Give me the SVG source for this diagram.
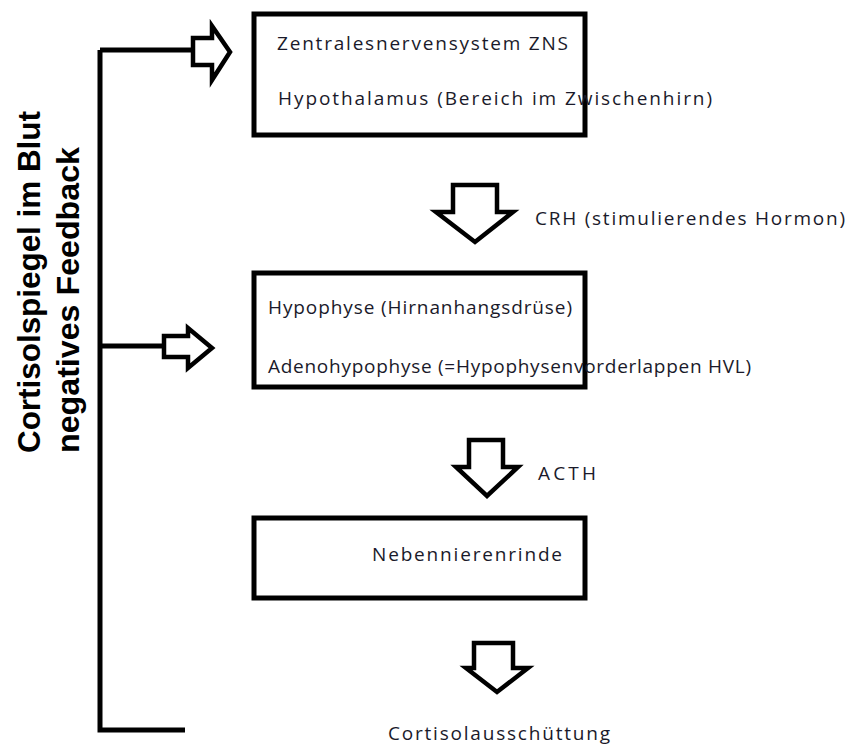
<svg xmlns="http://www.w3.org/2000/svg" width="850" height="747" viewBox="0 0 850 747">
<style>
.box{fill:#fff;stroke:#000;stroke-width:5}
.arr{fill:#fff;stroke:#000;stroke-width:4.5;stroke-linejoin:miter}
.ln{fill:none;stroke:#000;stroke-width:5}
.t{font-family:"Open Sans","Liberation Sans",sans-serif;font-size:19px;fill:#1a1a2a}
.v{font-family:"Liberation Sans",Arial,sans-serif;font-weight:bold;font-size:31px;fill:#000}
</style>
<rect width="850" height="747" fill="#fff"/>
<g id="connectors">
<path class="ln" d="M100,50 V730 H185"/>
<path class="ln" d="M100,50 H194"/>
<path class="ln" d="M100,346 H165"/>
<polygon class="arr" points="193,38 212,38 212,26 230,52 212,80 212,65 193,65"/>
<polygon class="arr" points="164,336 188,336 188,328 212,348 188,368 188,357 164,357"/>
<polygon class="arr" points="453,185 497,185 497,212 513,212 475,242 436,212 453,212"/>
<polygon class="arr" points="469,440 503,440 503,467 518,467 487,496 456,467 469,467"/>
<polygon class="arr" points="474,643 513,643 513,668 528,668 497,692 466,668 474,668"/>
</g>
<g id="feedback">
<text class="v" transform="translate(40,453) rotate(-90)" textLength="342" lengthAdjust="spacingAndGlyphs">Cortisolspiegel im Blut</text>
<text class="v" transform="translate(79,453) rotate(-90)" textLength="306" lengthAdjust="spacingAndGlyphs">negatives Feedback</text>
</g>
<g id="zns">
<rect class="box" x="254" y="14" width="331" height="121"/>
<text class="t" x="277" y="50" textLength="291" lengthAdjust="spacing">Zentralesnervensystem ZNS</text>
<text class="t" x="278" y="105" textLength="434" lengthAdjust="spacing">Hypothalamus (Bereich im Zwischenhirn)</text>
</g>
<g id="crh">
<text class="t" x="535" y="225" textLength="310" lengthAdjust="spacing">CRH (stimulierendes Hormon)</text>
</g>
<g id="hypophyse">
<rect class="box" x="254" y="273" width="331" height="114"/>
<text class="t" x="268" y="314" textLength="304" lengthAdjust="spacing">Hypophyse (Hirnanhangsdrüse)</text>
<text class="t" x="268" y="373" textLength="483" lengthAdjust="spacing">Adenohypophyse (=Hypophysenvorderlappen HVL)</text>
</g>
<g id="acth">
<text class="t" x="538" y="480" textLength="58" lengthAdjust="spacing">ACTH</text>
</g>
<g id="nnr">
<rect class="box" x="254" y="518" width="331" height="80"/>
<text class="t" x="372" y="561" textLength="190" lengthAdjust="spacing">Nebennierenrinde</text>
</g>
<g id="cortisol">
<text class="t" x="388" y="740" textLength="222" lengthAdjust="spacing">Cortisolausschüttung</text>
</g>
</svg>
